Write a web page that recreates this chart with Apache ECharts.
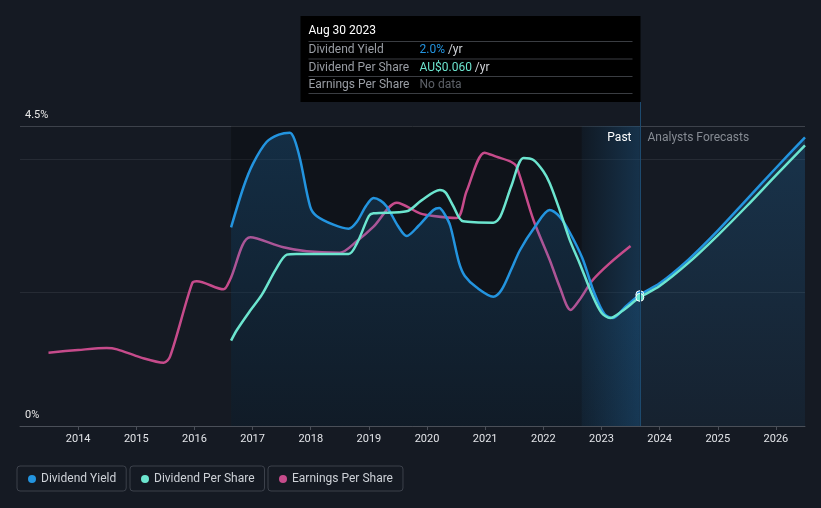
<!DOCTYPE html>
<html><head><meta charset="utf-8">
<script src="https://cdn.jsdelivr.net/npm/echarts@6/dist/echarts.min.js"></script>
<style>html,body{margin:0;padding:0;background:#151a23;}#c{width:821px;height:508px;}</style>
</head><body><div id="c"></div>
<script>
// ---- data (x in decimal years, y in % yield scale) ----
const yieldX = [2016.63,2016.85,2017.01,2017.24,2017.45,2017.64,2017.72,2017.82,2017.99,2018.10,2018.39,2018.65,2018.79,2018.95,2019.08,2019.20,2019.31,2019.50,2019.65,2019.85,2020.11,2020.21,2020.30,2020.40,2020.55,2020.65,2020.85,2021.14,2021.28,2021.45,2021.60,2021.85,2022.11,2022.28,2022.45,2022.67,2022.87,2023.05,2023.20,2023.40,2023.66,2024.00,2024.50,2025.00,2025.50,2026.00,2026.50];
const yieldY = [2.98,3.60,3.94,4.26,4.37,4.40,4.30,3.99,3.29,3.15,3.02,2.96,3.06,3.30,3.42,3.38,3.29,3.00,2.85,3.00,3.24,3.27,3.18,3.00,2.45,2.25,2.08,1.94,2.04,2.35,2.64,2.98,3.24,3.14,2.91,2.52,2.01,1.68,1.62,1.78,1.97,2.14,2.50,2.93,3.40,3.87,4.33];
const dpsX = [2016.63,2016.73,2016.95,2017.16,2017.40,2017.59,2017.75,2018.65,2018.80,2019.00,2019.08,2019.65,2019.90,2020.22,2020.32,2020.45,2020.62,2021.14,2021.26,2021.45,2021.66,2021.83,2022.00,2022.11,2022.28,2022.45,2022.62,2022.85,2023.00,2023.15,2023.35,2023.66,2024.00,2024.50,2025.00,2025.50,2026.00,2026.50];
const dpsY = [1.28,1.44,1.72,1.97,2.35,2.57,2.58,2.58,2.75,3.15,3.19,3.22,3.38,3.54,3.50,3.30,3.07,3.05,3.14,3.60,4.02,3.99,3.82,3.64,3.24,2.80,2.45,1.95,1.70,1.62,1.72,1.93,2.10,2.45,2.86,3.30,3.76,4.21];
const epsX = [2013.49,2014.00,2014.49,2014.67,2015.07,2015.47,2015.58,2015.96,2016.04,2016.50,2016.61,2016.96,2017.53,2017.93,2018.50,2018.79,2019.08,2019.48,2019.88,2020.11,2020.51,2020.68,2020.99,2021.19,2021.45,2021.54,2021.83,2022.11,2022.28,2022.47,2022.62,2022.85,2023.14,2023.50];
const epsY = [1.10,1.14,1.17,1.15,1.03,0.95,1.04,2.14,2.17,2.05,2.19,2.83,2.68,2.62,2.60,2.77,2.99,3.35,3.19,3.15,3.12,3.52,4.10,4.04,3.96,3.89,3.09,2.49,2.09,1.74,1.89,2.19,2.44,2.70];
const yearTicks = [2014,2015,2016,2017,2018,2019,2020,2021,2022,2023,2024,2025,2026];
const yLabelValues = [0, 4.5];
const pastStart = 2016.63;
const pastBandStart = 2022.66;
const today = 2023.66;
const tooltipTitle = 'Aug 30 2023';
const tooltipRows = [
  ['Dividend Yield', '2.0%', ' /yr', '#2394df'],
  ['Dividend Per Share', 'AU$0.060', ' /yr', '#6ce5cf'],
  ['Earnings Per Share', 'No data', '', '#5d6168']
];
const names = ['Dividend Yield','Dividend Per Share','Earnings Per Share'];
const colors = ['#2394df','#6ce5cf','#c64b8b'];

function pairs(xs, ys){ return xs.map((x,i)=>({value:[x, ys[i]]})); }
function withDot(xs, ys, color){ return xs.map((x,i)=>{
  const item = {value:[x, ys[i]]};
  if (x === today) { item.symbol='circle'; item.symbolSize=8; item.itemStyle={color:color,borderColor:'#ffffff',borderWidth:1}; }
  return item; }); }

const chart = echarts.init(document.getElementById('c'), null, {renderer:'canvas'});
const legendBase = {
  orient:'horizontal', top:466, icon:'circle', itemWidth:8, itemHeight:8, itemGap:0,
  borderColor:'#3c414b', borderWidth:1, borderRadius:3, padding:[7,10,6,11],
  textStyle:{color:'#cdd1d7', fontSize:12, fontFamily:'Roboto'}, selectedMode:false
};
const SM = 0.3;
const option = {
  backgroundColor:'#151a23',
  animation:false,
  textStyle:{fontFamily:'Roboto'},
  grid:{left:20, right:16, top:126, bottom:82, containLabel:false},
  legend:[
    Object.assign({}, legendBase, {left:17, data:[names[0]]}),
    Object.assign({}, legendBase, {left:130, data:[names[1]]}),
    Object.assign({}, legendBase, {left:268, data:[names[2]]})
  ],
  xAxis:{
    type:'value', min:2013, max:2026.5, interval:1,
    axisLine:{show:true, lineStyle:{color:'#4a4f58', width:1}},
    axisTick:{show:true, length:4, lineStyle:{color:'#4a4f58'}, customValues:yearTicks},
    axisLabel:{color:'#e2e4e8', fontSize:11, margin:8, customValues:yearTicks, formatter:v=>String(v)},
    splitLine:{show:false}
  },
  yAxis:{
    type:'value', min:0, max:4.5, interval:2,
    axisLine:{show:false}, axisTick:{show:false},
    axisLabel:{inside:true, customValues:yLabelValues, color:'#e8e8e8', fontSize:11, verticalAlign:'bottom', padding:[0,0,5,0], margin:5, formatter:v=>v+'%'},
    splitLine:{show:true, lineStyle:{color:['#4a4f58','#262b34','#262b34','#3d424b'], width:1}}
  },
  series:[
    {
      name:names[0], type:'line', smooth:SM, symbol:'none', showSymbol:true,
      data:withDot(yieldX, yieldY, colors[0]), z:4,
      lineStyle:{color:colors[0], width:2.5}, itemStyle:{color:colors[0]},
      areaStyle:{color:new echarts.graphic.LinearGradient(0,0,0,1,[
        {offset:0,color:'rgba(35,135,210,0.33)'},{offset:1,color:'rgba(35,135,210,0.10)'}])},
      markArea:{silent:true, data:[
        [{xAxis:pastStart, itemStyle:{color:'rgba(0,0,0,0.25)'}},{xAxis:today}],
        [{xAxis:pastBandStart, itemStyle:{color:new echarts.graphic.LinearGradient(0,0,1,0,[
          {offset:0,color:'rgba(40,130,200,0.06)'},{offset:1,color:'rgba(40,130,200,0.28)'}])}},{xAxis:today}]
      ]}
    },
    {
      name:names[1], type:'line', smooth:SM, symbol:'none', showSymbol:true,
      data:withDot(dpsX, dpsY, colors[1]), z:5,
      lineStyle:{color:colors[1], width:2.5}, itemStyle:{color:colors[1]}
    },
    {
      name:names[2], type:'line', smooth:SM, symbol:'none', showSymbol:false,
      data:pairs(epsX, epsY), z:3,
      lineStyle:{color:colors[2], width:2.5}, itemStyle:{color:colors[2]}
    }
  ]
};
chart.setOption(option);

// annotations positioned through the axis scale
const px = Math.round(chart.convertToPixel({xAxisIndex:0}, today)) + 0.5;
const yTop = chart.convertToPixel({yAxisIndex:0}, 4.5);
const yBot = chart.convertToPixel({yAxisIndex:0}, 0);
const boxW = 340, boxH = 86, boxTop = 16;
const boxL = px - boxW;
const g = [];
g.push({type:'line', shape:{x1:px,y1:boxTop+boxH,x2:px,y2:yBot}, style:{stroke:'#1d4a6e', lineWidth:1}, z:10});
g.push({type:'rect', shape:{x:boxL,y:boxTop,width:boxW,height:boxH}, style:{fill:'#000000'}, z:20});
g.push({type:'text', x:boxL+8, y:boxTop+15, style:{text:tooltipTitle, fill:'#ffffff', font:'12px Roboto', verticalAlign:'middle'}, z:21});
const sepY = [boxTop+25, boxTop+42.5, boxTop+60, boxTop+77];
sepY.forEach(y=>g.push({type:'line', shape:{x1:boxL+8,y1:y+0.5,x2:px-8,y2:y+0.5}, style:{stroke:'#3a3d42', lineWidth:1}, z:21}));
tooltipRows.forEach((r,i)=>{
  const cy = (sepY[i]+sepY[i+1])/2 + 0.5;
  g.push({type:'text', x:boxL+8, y:cy, style:{text:r[0], fill:'#9a9ea5', font:'12px Roboto', verticalAlign:'middle'}, z:21});
  g.push({type:'text', x:boxL+119, y:cy, style:{text:'{v|'+r[1]+'}{u|'+r[2]+'}', verticalAlign:'middle',
    rich:{v:{fill:r[3], font:'12px Roboto'}, u:{fill:'#d0d3d8', font:'12px Roboto'}}}, z:21});
});
g.push({type:'text', x:px-9, y:yTop+12, style:{text:'Past', fill:'#ffffff', font:'12px Roboto', align:'right', verticalAlign:'middle'}, z:21});
g.push({type:'text', x:px+7, y:yTop+12, style:{text:'Analysts Forecasts', fill:'#868b93', font:'12px Roboto', align:'left', verticalAlign:'middle'}, z:21});
chart.setOption({graphic:g});
</script>
</body></html>
